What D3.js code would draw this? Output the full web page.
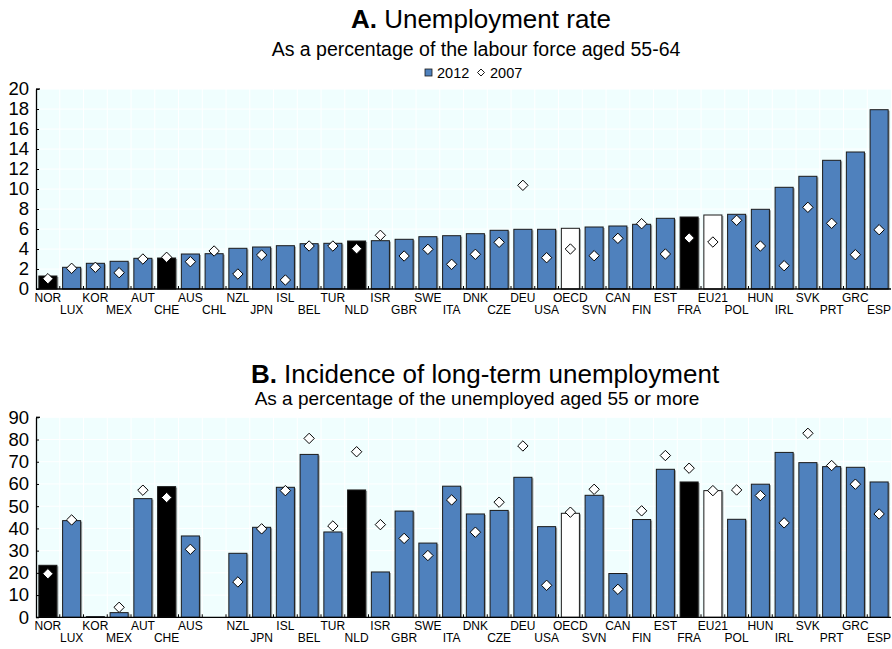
<!DOCTYPE html>
<html>
<head>
<meta charset="utf-8">
<script src="https://cdn.jsdelivr.net/npm/d3@7"></script>
<style>
  html, body { margin: 0; padding: 0; background: #fff; }
  svg { display: block; font-family: "Liberation Sans", Arial, Helvetica, sans-serif; }
</style>
</head>
<body>
<svg id="chart" width="892" height="649"></svg>
<script>
// Country codes (shared order for both panels)
const countries = ["NOR","LUX","KOR","MEX","AUT","CHE","AUS","CHL","NZL","JPN","ISL","BEL","TUR","NLD","ISR","GBR","SWE","ITA","DNK","CZE","DEU","USA","OECD","SVN","CAN","FIN","EST","FRA","EU21","POL","HUN","IRL","SVK","PRT","GRC","ESP"];

// Panel A: unemployment rate, % of labour force aged 55-64
const unemp2012 = [1.3,2.17,2.57,2.77,3.07,3.1,3.5,3.53,4.07,4.2,4.33,4.53,4.57,4.8,4.83,4.97,5.23,5.33,5.53,5.87,5.97,5.97,6.07,6.2,6.3,6.47,7.07,7.2,7.4,7.47,7.97,10.17,11.27,12.87,13.7,17.93];
const unemp2007 = [1.03,2.07,2.17,1.63,3.0,3.17,2.73,3.8,1.5,3.4,0.9,4.3,4.3,4.03,5.37,3.3,3.97,2.47,3.47,4.67,10.37,3.13,4.0,3.33,5.07,6.53,3.5,5.1,4.7,6.87,4.3,2.33,8.17,6.57,3.43,5.93];

// Panel B: long-term unemployment, % of unemployed aged 55+
const ltu2012 = [23.4,43.5,0.3,2.1,53.4,58.8,36.6,null,28.8,40.5,58.5,73.3,38.4,57.3,20.4,47.8,33.4,59.0,46.5,48.1,63.0,40.8,46.8,54.9,19.7,44.0,66.6,60.9,57.0,44.1,59.9,74.2,69.6,67.8,67.5,60.9];
const ltu2007 = [19.6,43.8,null,4.5,57.2,53.9,30.6,null,15.9,39.8,57.0,80.5,41.1,74.5,41.7,35.5,27.8,52.8,38.3,51.8,77.1,14.4,47.3,57.6,12.6,47.9,72.8,67.1,57.0,57.3,54.8,42.5,82.8,68.3,59.9,46.5];

// Axis tick values
const ticksA = [0,2,4,6,8,10,12,14,16,18,20];
const ticksB = [0,10,20,30,40,50,60,70,80,90];

// Highlighted categories
const highlightDark = ["NOR","CHE","NLD","FRA"];
const highlightLight = ["OECD","EU21"];

const colBar = "#4f81bd";
const colBg = "#f0fefe";

const svg = d3.select("#chart");

const x = d3.scaleBand().domain(countries).range([36, 891]).paddingInner(0.24).paddingOuter(0.12);

function fillFor(c) {
  if (highlightDark.includes(c)) return "#000";
  if (highlightLight.includes(c)) return "#fff";
  return colBar;
}

function panel(opts) {
  const { yTop, yBottom, max, ticks, bars, points, labels } = opts;
  const y = d3.scaleLinear().domain([0, max]).range([yBottom, yTop]);
  const g = svg.append("g");
  const left = x.range()[0], right = x.range()[1];

  // plot background
  g.append("rect").attr("x", left).attr("y", yTop).attr("width", right - left).attr("height", yBottom - yTop).attr("fill", colBg);

  // horizontal gridlines
  g.selectAll("line.hgrid").data(ticks.slice(1)).join("line").attr("class", "hgrid")
    .attr("x1", left).attr("x2", right)
    .attr("y1", d => y(d)).attr("y2", d => y(d))
    .attr("stroke", "#fff").attr("stroke-width", 1);

  // vertical gridlines at band boundaries
  const step = x.step();
  const bounds = countries.map(c => x(c) - step * x.paddingInner() / 2).slice(1);
  g.selectAll("line.vgrid").data(bounds).join("line").attr("class", "vgrid")
    .attr("x1", d => d).attr("x2", d => d)
    .attr("y1", yTop).attr("y2", yBottom)
    .attr("stroke", "#fff").attr("stroke-width", 1);

  const data = countries.map((c, i) => ({ c, i, v: bars[i], p: points[i], lab: labels[i] }));

  // bar shadows
  g.selectAll("rect.shadow").data(data.filter(d => d.v != null)).join("rect").attr("class", "shadow")
    .attr("x", d => x(d.c) + 1.5).attr("y", d => y(d.v) + 1)
    .attr("width", x.bandwidth()).attr("height", d => yBottom - y(d.v) - 1)
    .attr("fill", "#666").attr("opacity", 0.6);

  // bars
  g.selectAll("rect.bar").data(data.filter(d => d.v != null)).join("rect").attr("class", "bar")
    .attr("x", d => x(d.c)).attr("y", d => y(d.v))
    .attr("width", x.bandwidth()).attr("height", d => yBottom - y(d.v))
    .attr("fill", d => fillFor(d.c)).attr("stroke", "#1a1a1a").attr("stroke-width", 1);

  // diamonds
  const dsize = 5.2;
  g.selectAll("path.pt").data(data.filter(d => d.p != null)).join("path").attr("class", "pt")
    .attr("transform", d => `translate(${x(d.c) + x.bandwidth() / 2},${y(d.p)})`)
    .attr("d", `M0,${-dsize}L${dsize},0L0,${dsize}L${-dsize},0Z`)
    .attr("fill", "#fff").attr("stroke", "#000").attr("stroke-width", 1);

  // y axis
  const ya = g.append("g").attr("transform", `translate(${left},0)`)
    .call(d3.axisLeft(y).tickValues(ticks).tickSize(-3).tickPadding(5).tickSizeOuter(0));
  ya.select(".domain").attr("stroke", "#000").attr("stroke-width", 1.3);
  ya.selectAll(".tick line").attr("stroke", "#000");
  ya.selectAll(".tick text").attr("font-size", 18.5).attr("fill", "#000").attr("dx", "-0.1em")
    .attr("font-family", "'Liberation Sans', Arial, sans-serif");
  ya.append("line").attr("x1", 0).attr("x2", 4).attr("y1", yTop).attr("y2", yTop).attr("stroke", "#000").attr("stroke-width", 1.3);

  // x axis baseline
  g.append("line").attr("x1", left).attr("x2", right).attr("y1", yBottom).attr("y2", yBottom).attr("stroke", "#000").attr("stroke-width", 1.3);
  // small ticks between bars
  g.selectAll("line.mtick").data(bounds).join("line").attr("class", "mtick")
    .attr("x1", d => d).attr("x2", d => d).attr("y1", yBottom).attr("y2", yBottom - 3)
    .attr("stroke", "#000").attr("stroke-width", 1);

  // category labels, alternating between two rows so neighbours never collide
  g.selectAll("text.xlab").data(data.filter(d => d.lab)).join("text").attr("class", "xlab")
    .attr("x", d => x(d.c) + x.bandwidth() / 2)
    .attr("y", d => yBottom + (d.i % 2 === 0 ? 13 : 25))
    .attr("text-anchor", "middle").attr("font-size", 12).attr("fill", "#000")
    .text(d => d.lab);
}

// Panel A
svg.append("text").attr("x", 481).attr("y", 28).attr("text-anchor", "middle").attr("font-size", 26)
  .html('<tspan font-weight="bold">A.</tspan> Unemployment rate');
svg.append("text").attr("x", 476).attr("y", 56).attr("text-anchor", "middle").attr("font-size", 19.5)
  .text("As a percentage of the labour force aged 55-64");

// legend
const lg = svg.append("g");
lg.append("rect").attr("x", 425).attr("y", 69).attr("width", 7).attr("height", 7).attr("fill", colBar).attr("stroke", "#1a1a1a").attr("stroke-width", 0.8);
lg.append("text").attr("x", 437).attr("y", 78).attr("font-size", 14.5).text("2012");
lg.append("path").attr("transform", "translate(481,72.5)").attr("d", "M0,-3.5L3.5,0L0,3.5L-3.5,0Z").attr("fill", "#fff").attr("stroke", "#000").attr("stroke-width", 0.9);
lg.append("text").attr("x", 490).attr("y", 78).attr("font-size", 14.5).text("2007");

panel({ yTop: 89, yBottom: 289, max: 20, ticks: ticksA, bars: unemp2012, points: unemp2007, labels: countries });

// Panel B
svg.append("text").attr("x", 485).attr("y", 383).attr("text-anchor", "middle").attr("font-size", 26)
  .html('<tspan font-weight="bold">B.</tspan> Incidence of long-term unemployment');
svg.append("text").attr("x", 477).attr("y", 405).attr("text-anchor", "middle").attr("font-size", 19)
  .text("As a percentage of the unemployed aged 55 or more");

const labelsB = countries.map(c => (c === "CHL" ? "" : c));
panel({ yTop: 417.3, yBottom: 617.3, max: 90, ticks: ticksB, bars: ltu2012, points: ltu2007, labels: labelsB });
</script>
</body>
</html>
